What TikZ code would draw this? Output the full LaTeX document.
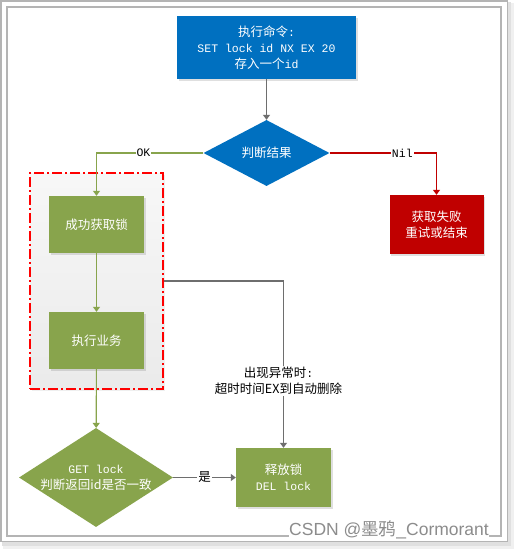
\documentclass[tikz,border=0pt]{standalone}
\usepackage{fontspec}
\setmainfont{Liberation Mono}
\newfontfamily\cjk{Noto Sans CJK SC}
\newfontfamily\wmfont{Liberation Sans}
\usetikzlibrary{shapes.geometric,arrows.meta,shadows}
\definecolor{cblue}{HTML}{0070C0}
\definecolor{cgreen}{HTML}{88A44C}
\definecolor{cred}{HTML}{C00000}
\definecolor{cgray}{HTML}{6E6E6E}
\definecolor{cframe}{HTML}{B4B4B4}
\newcommand\zh[1]{{\cjk\fontsize{12.5}{16}\selectfont #1}}
\begin{document}
\begin{tikzpicture}[x=1pt,y=-1pt,
  txt/.style={font=\fontsize{11.5}{16}\selectfont},
  box/.style={rectangle, text=white, align=center, inner sep=0, txt,
    drop shadow={shadow xshift=1.5pt, shadow yshift=-1.5pt, opacity=0.25}},
  bluebox/.style={box, fill=cblue, minimum width=179pt, minimum height=63pt},
  greenbox/.style={box, fill=cgreen, minimum width=95pt, minimum height=57pt},
  redbox/.style={box, fill=cred, minimum width=94pt, minimum height=59pt},
  dia/.style={diamond, inner sep=0, text=white},
  tip/.style={-{Triangle[length=5pt,width=7pt]}},
  gline/.style={draw=cgray, line width=1.1pt, tip},
  grline/.style={draw=cgreen, line width=1.1pt, tip},
  rline/.style={draw=cred, line width=1.1pt, tip},
  lbl/.style={fill=white, inner sep=1pt, text=black, txt, align=center}
]
\useasboundingbox (0,0) rectangle (514,549);
% frame with shadow
\fill[black!6] (3,3) rectangle (514,549);
\fill[black!12] (2,2) rectangle (511,546);
\draw[cframe, line width=1.5pt, fill=white] (0.75,0.75) rectangle (507.5,541.5);
\draw[cframe, line width=1.2pt] (7,7) rectangle (501,536);

% group area
\node[draw=red, line width=1.2pt, dash pattern=on 10pt off 3pt on 2pt off 3pt,
  top color=black!3, bottom color=black!8, minimum width=133pt, minimum height=216pt,
  inner sep=0, drop shadow={shadow xshift=1.5pt, shadow yshift=-1.5pt, opacity=0.12}] (grp) at (96.5,281) {};

% nodes
\node[bluebox] (cmd) at (266.5,47.5) {\zh{执行命令}:\\SET lock id NX EX 20\\\zh{存入一个}id};
\node[dia, fill=cblue, minimum width=126pt, minimum height=66pt,
  label={[text=white]center:\zh{判断结果}}] (judge) at (266.5,153) {};
\node[redbox] (fail) at (436.5,224.5) {\zh{获取失败}\\\zh{重试或结束}};
\node[greenbox] (succ) at (96.5,224.5) {\zh{成功获取锁}};
\node[greenbox] (biz) at (96.5,340.5) {\zh{执行业务}};
\node[dia, fill=cgreen, minimum width=154pt, minimum height=99pt,
  label={[text=white, align=center, txt]center:GET lock\\\zh{判断返回id是否一致}}] (chk) at (96,477.5) {};
\node[greenbox, minimum height=59pt] (rel) at (283.5,477.5) {\zh{释放锁}\\DEL lock};

% connectors
\draw[gline] (cmd.south) -- (judge.north);
\draw[grline] (judge.west) -| node[pos=0.28, lbl]{OK} (succ.north);
\draw[rline] (judge.east) -| node[pos=0.34, lbl]{Nil} (fail.north);
\draw[grline] (succ) -- (biz);
\draw[grline] (biz) -- (chk);
\draw[gline] (chk.east) -- node[lbl]{\zh{是}} (rel.west);
\draw[gline] (grp.east) -| node[pos=0.8, lbl, xshift=-5pt]{\zh{出现异常时}:\\\zh{超时时间EX到自动删除}} (rel.north);

% watermark
\node[fill=white, inner sep=0.5pt, text=black!45, font=\wmfont\fontsize{17.5}{19}\selectfont] (wm) at (389,530) {CSDN @{\cjk 墨鸦}\_Cormorant};
\draw[cframe, line width=1.2pt] (501,515) -- (501,536);
\end{tikzpicture}
\end{document}
